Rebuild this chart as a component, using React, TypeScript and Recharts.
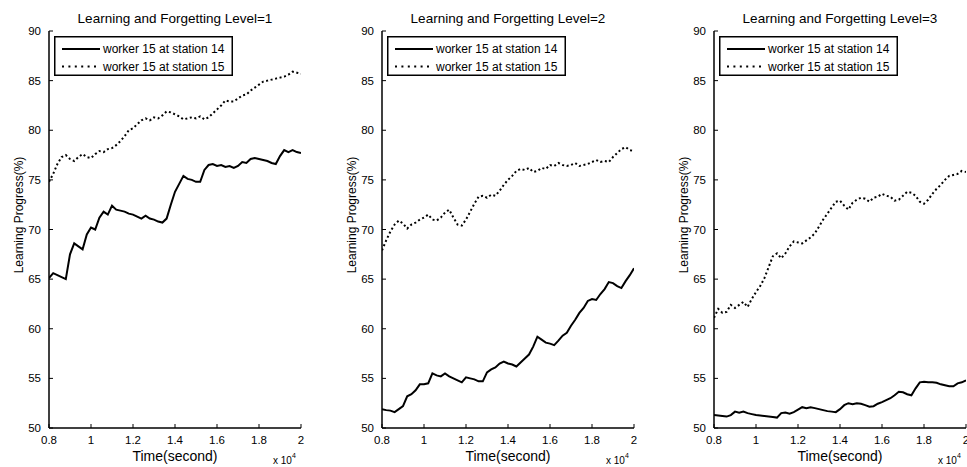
import React from "react"
import { LineChart, Line, XAxis, YAxis, Legend, Label } from "recharts"

// time axis (x 10^4 seconds)
const TIME = [
  0.8, 0.82, 0.84, 0.86, 0.88, 0.9, 0.92, 0.94, 0.96, 0.98,
  1.0, 1.02, 1.04, 1.06, 1.08, 1.1, 1.12, 1.14, 1.16, 1.18,
  1.2, 1.22, 1.24, 1.26, 1.28, 1.3, 1.32, 1.34, 1.36, 1.38,
  1.4, 1.42, 1.44, 1.46, 1.48, 1.5, 1.52, 1.54, 1.56, 1.58,
  1.6, 1.62, 1.64, 1.66, 1.68, 1.7, 1.72, 1.74, 1.76, 1.78,
  1.8, 1.82, 1.84, 1.86, 1.88, 1.9, 1.92, 1.94, 1.96, 1.98,
  2.0,
]

const X_TICKS = [0.8, 1, 1.2, 1.4, 1.6, 1.8, 2]
const Y_TICKS = [50, 55, 60, 65, 70, 75, 80, 85, 90]

const LEGEND_NAMES = ["worker 15 at station 14", "worker 15 at station 15"]

// Level=1
const L1_ST14 = [
  65.1, 65.6, 65.4, 65.2, 65.0, 67.5, 68.6, 68.3, 68.0, 69.5,
  70.2, 70.0, 71.2, 71.8, 71.5, 72.4, 72.0, 71.9, 71.8, 71.6,
  71.5, 71.3, 71.1, 71.4, 71.1, 71.0, 70.8, 70.7, 71.1, 72.5,
  73.8, 74.6, 75.4, 75.1, 75.0, 74.8, 74.8, 76.0, 76.5, 76.6,
  76.4, 76.5, 76.3, 76.4, 76.2, 76.4, 76.8, 76.7, 77.1, 77.2,
  77.1, 77.0, 76.9, 76.7, 76.6, 77.4, 78.0, 77.8, 78.0, 77.8,
  77.7,
]
const L1_ST15 = [
  74.8, 75.6, 76.6, 77.3, 77.5, 77.1, 76.9, 77.3, 77.6, 77.3,
  77.2, 77.6, 77.9, 77.8, 78.1, 78.2, 78.5, 78.9, 79.4, 80.0,
  80.2, 80.6, 81.0, 81.2, 81.0, 81.3, 81.2, 81.5, 81.9, 81.8,
  81.6, 81.4, 81.1, 81.2, 81.3, 81.2, 81.4, 81.1, 81.3, 81.7,
  82.1, 82.5, 83.0, 82.9, 82.9, 83.2, 83.5, 83.6, 84.0, 84.3,
  84.6, 84.9, 85.0, 85.1, 85.2, 85.3, 85.4, 85.6, 85.9, 85.8,
  85.7,
]

// Level=2
const L2_ST14 = [
  51.9, 51.8, 51.75, 51.6, 51.9, 52.2, 53.2, 53.4, 53.8, 54.4,
  54.4, 54.5, 55.5, 55.3, 55.2, 55.5, 55.2, 55.0, 54.8, 54.6,
  55.1, 55.0, 54.9, 54.7, 54.7, 55.6, 55.9, 56.1, 56.5, 56.7,
  56.5, 56.4, 56.2, 56.6, 57.0, 57.4, 58.2, 59.2, 58.9, 58.6,
  58.5, 58.35, 58.8, 59.3, 59.6, 60.3, 60.9, 61.6, 62.1, 62.8,
  63.0, 62.9, 63.5, 64.0, 64.7, 64.6, 64.3, 64.1, 64.8, 65.4,
  66.1,
]
const L2_ST15 = [
  67.9, 68.9, 69.8, 70.5, 70.9, 70.6, 70.1, 70.5, 70.7, 71.0,
  71.2, 71.5, 71.0, 70.9, 71.2, 71.7, 72.0, 71.2, 70.5, 70.4,
  71.0, 71.8, 72.6, 73.3, 73.4, 73.2, 73.5, 73.4, 73.9, 74.5,
  75.0, 75.4, 75.9, 76.1, 76.0, 76.2, 75.8, 75.9, 76.2, 76.1,
  76.5, 76.4, 76.7, 76.5, 76.4, 76.5, 76.7, 76.4, 76.5, 76.6,
  76.8, 77.0, 76.8, 76.9, 76.8, 77.3, 77.7, 78.1, 78.3, 78.0,
  77.9,
]

// Level=3
const L3_ST14 = [
  51.3, 51.25, 51.2, 51.15, 51.3, 51.65, 51.55, 51.65, 51.5, 51.4,
  51.3, 51.25, 51.2, 51.15, 51.1, 51.05, 51.5, 51.55, 51.45, 51.6,
  51.85, 52.1, 52.0, 52.1, 52.0, 51.9, 51.8, 51.7, 51.65, 51.6,
  51.9, 52.3, 52.5, 52.4, 52.5, 52.45, 52.3, 52.15, 52.2, 52.45,
  52.6, 52.8, 53.0, 53.3, 53.65, 53.6, 53.4, 53.3, 54.0, 54.6,
  54.65, 54.6, 54.6, 54.55, 54.4, 54.3, 54.2, 54.2, 54.5, 54.6,
  54.8,
]
const L3_ST15 = [
  61.1, 62.0, 61.6, 61.7, 62.4, 62.1, 62.4, 62.7, 62.2, 63.0,
  63.7, 64.3, 65.1, 66.2, 67.3, 67.6, 67.1, 67.6, 68.3, 68.8,
  68.7, 68.6, 68.9, 69.2, 69.6, 70.3, 71.0, 71.6, 72.2, 72.8,
  72.9, 72.4, 72.0, 72.7, 73.0, 73.2, 73.1, 72.8, 73.2, 73.3,
  73.6, 73.4, 73.3, 72.9, 73.0, 73.4, 73.8, 73.7, 73.4, 72.8,
  72.6, 73.0, 73.6, 74.1, 74.5, 75.0, 75.4, 75.5, 75.6, 75.9,
  75.8,
]

const FONT = "'Liberation Sans', Arial, Helvetica, sans-serif"
const DOTS = "2 2.6"

const LegendBox = () => (
  <svg width={179} height={40} style={{ display: "block", fontFamily: FONT }}>
    <rect x={0.75} y={0.75} width={177.5} height={38.5} fill="#fff" stroke="#000" strokeWidth={1.5} />
    <line x1={8} x2={46} y1={13} y2={13} stroke="#000" strokeWidth={2} />
    <text x={49} y={17.3} fontSize={12} fill="#000">{LEGEND_NAMES[0]}</text>
    <line x1={8} x2={46} y1={30.5} y2={30.5} stroke="#000" strokeWidth={2} strokeDasharray="2 4.4" />
    <text x={49} y={34.8} fontSize={12} fill="#000">{LEGEND_NAMES[1]}</text>
  </svg>
)

function Panel({ left, title, st14, st15 }: { left: number; title: string; st14: number[]; st15: number[] }) {
  const data = TIME.map((t, i) => ({ t, a: st14[i], b: st15[i] }))
  const axisLine = { stroke: "#000", strokeWidth: 1.5 }
  const tickLine = { stroke: "#000", strokeWidth: 1 }
  const tickStyle = { fontSize: 11.5, fill: "#000", fontFamily: FONT }

  return (
    <div style={{ position: "absolute", left, top: 0 }}>
      <LineChart width={320} height={467} data={data} margin={{ top: 31, right: 19, bottom: 19, left: 9 }}>
        <XAxis
          xAxisId="b"
          dataKey="t"
          type="number"
          domain={[0.8, 2]}
          ticks={X_TICKS}
          allowDataOverflow
          height={20}
          tickSize={-4}
          tickMargin={12}
          axisLine={axisLine}
          tickLine={tickLine}
          tick={tickStyle}
        >
          <Label
            content={({ viewBox }: any) => (
              <g fontFamily={FONT} fill="#000">
                <text x={viewBox.x + viewBox.width / 2} y={viewBox.y + 33} fontSize={14} textAnchor="middle">
                  Time(second)
                </text>
                <text x={viewBox.x + viewBox.width - 28} y={viewBox.y + 36} fontSize={10}>
                  x 10<tspan dy={-6} fontSize={7}>4</tspan>
                </text>
              </g>
            )}
          />
        </XAxis>
        <XAxis
          xAxisId="t"
          orientation="top"
          dataKey="t"
          type="number"
          domain={[0.8, 2]}
          ticks={X_TICKS}
          allowDataOverflow
          height={0}
          tickSize={-4}
          axisLine={axisLine}
          tickLine={tickLine}
          tickFormatter={() => ""}
        />
        <YAxis
          yAxisId="l"
          type="number"
          domain={[50, 90]}
          ticks={Y_TICKS}
          allowDataOverflow
          width={40}
          tickSize={-4}
          tickMargin={12}
          axisLine={axisLine}
          tickLine={tickLine}
          tick={tickStyle}
        >
          <Label
            content={({ viewBox }: any) => {
              const cx = viewBox.x + viewBox.width - 30.5
              const cy = viewBox.y + 184
              const plotLeft = viewBox.x + viewBox.width
              return (
                <g fontFamily={FONT} fill="#000">
                  <text
                    x={cx}
                    y={cy}
                    transform={`rotate(-90 ${cx} ${cy})`}
                    fontSize={12}
                    textAnchor="middle"
                    dominantBaseline="central"
                  >
                    Learning Progress(%)
                  </text>
                  <text x={plotLeft + 126} y={viewBox.y - 8} fontSize={13.5} textAnchor="middle">
                    {title}
                  </text>
                </g>
              )
            }}
          />
        </YAxis>
        <YAxis
          yAxisId="r"
          orientation="right"
          type="number"
          domain={[50, 90]}
          ticks={Y_TICKS}
          allowDataOverflow
          width={0}
          tickSize={-4}
          axisLine={axisLine}
          tickLine={tickLine}
          tickFormatter={() => ""}
        />
        <Legend
          layout="horizontal"
          align="center"
          verticalAlign="middle"
          wrapperStyle={{ left: 54, top: 36, width: 179, height: 40 }}
          content={() => <LegendBox />}
        />
        <Line
          xAxisId="b"
          yAxisId="l"
          dataKey="a"
          name={LEGEND_NAMES[0]}
          stroke="#000"
          strokeWidth={2}
          dot={false}
          type="linear"
          isAnimationActive={false}
        />
        <Line
          xAxisId="b"
          yAxisId="l"
          dataKey="b"
          name={LEGEND_NAMES[1]}
          stroke="#000"
          strokeWidth={2}
          strokeDasharray={DOTS}
          dot={false}
          type="linear"
          isAnimationActive={false}
        />
        {/* invisible series so the top/right frame axes get a scale */}
        <Line
          xAxisId="t"
          yAxisId="r"
          dataKey="a"
          stroke="none"
          dot={false}
          legendType="none"
          isAnimationActive={false}
        />
      </LineChart>
    </div>
  )
}

export default function App() {
  return (
    <div style={{ position: "absolute", left: 0, top: 0, width: 967, height: 467, overflow: "hidden", background: "#fff" }}>
      <Panel left={0} title="Learning and Forgetting Level=1" st14={L1_ST14} st15={L1_ST15} />
      <Panel left={333} title="Learning and Forgetting Level=2" st14={L2_ST14} st15={L2_ST15} />
      <Panel left={665} title="Learning and Forgetting Level=3" st14={L3_ST14} st15={L3_ST15} />
    </div>
  )
}
